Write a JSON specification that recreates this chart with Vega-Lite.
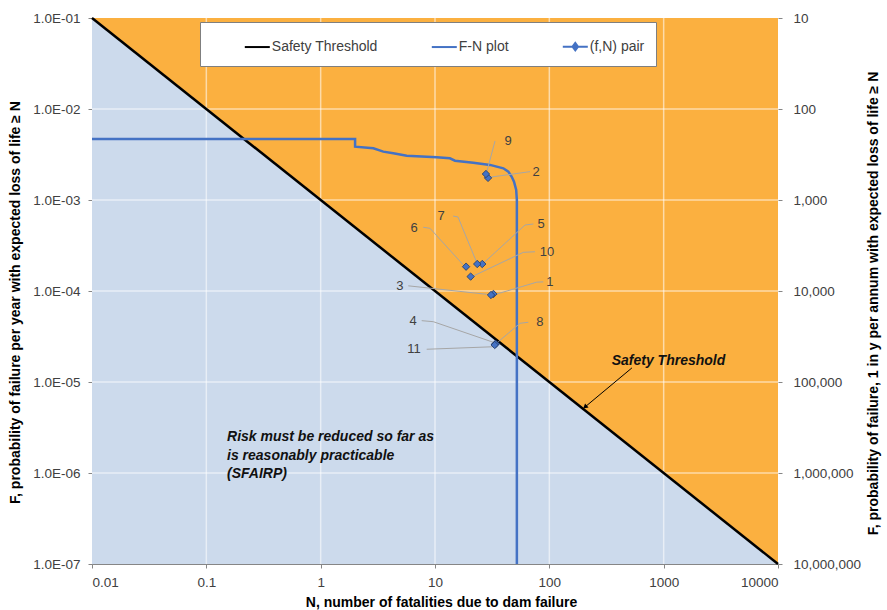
{
  "$schema": "https://vega.github.io/schema/vega-lite/v6.json",
  "width": 686,
  "height": 546,
  "autosize": {"type": "none"},
  "padding": {"left": 92, "top": 18, "right": 109, "bottom": 46},
  "background": "#FFFFFF",
  "config": {
    "font": "Liberation Sans",
    "view": {"stroke": null, "fill": "#FBB040"},
    "axis": {"labelFont": "Liberation Sans", "labelFontSize": 13.5, "labelColor": "#404040", "titleFont": "Liberation Sans", "titleFontSize": 14, "titleFontWeight": "bold", "titleColor": "#000000", "domainColor": "#868686", "tickColor": "#868686", "grid": false},
    "legend": {"labelFont": "Liberation Sans"}
  },
  "layer": [
    {
      "layer": [
        {
          "data": {"values": [{"N": 0.01, "F": 0.1}, {"N": 10000, "F": 1e-7}]},
          "mark": {"type": "area", "color": "#CCDAEC", "opacity": 1},
          "encoding": {
            "x": {"field": "N", "type": "quantitative", "scale": {"type": "log", "domain": [0.01, 10000], "nice": false},
              "axis": {"values": [0.01, 0.1, 1, 10, 100, 1000, 10000], "format": "~g", "title": "N, number of fatalities due to dam failure", "tickSize": 4, "labelPadding": 7, "titleX": 349, "titleY": 38, "titleBaseline": "middle"}},
            "y": {"field": "F", "type": "quantitative", "scale": {"type": "log", "domain": [1e-7, 0.1], "nice": false},
              "axis": {"values": [1e-7, 1e-6, 1e-5, 1e-4, 1e-3, 1e-2, 1e-1], "labelExpr": "'1.0E-0' + round(-log(datum.value)/LN10)", "title": "F, probability of failure per year with expected loss of life ≥ N", "tickSize": 4, "labelPadding": 8, "titleX": -77, "titleY": 284, "titleBaseline": "middle", "titleAngle": 270}},
            "y2": {"datum": 1e-7}
          }
        },
        {
          "data": {"values": [{"N": 0.1}, {"N": 1}, {"N": 10}, {"N": 100}, {"N": 1000}]},
          "mark": {"type": "rule", "color": "#FFFFFF", "opacity": 0.55, "strokeWidth": 1.5},
          "encoding": {"x": {"field": "N", "type": "quantitative", "scale": {"type": "log", "domain": [0.01, 10000], "nice": false}}}
        },
        {
          "data": {"values": [{"F": 1e-6}, {"F": 1e-5}, {"F": 1e-4}, {"F": 1e-3}, {"F": 1e-2}]},
          "mark": {"type": "rule", "color": "#FFFFFF", "opacity": 0.55, "strokeWidth": 1.5},
          "encoding": {"y": {"field": "F", "type": "quantitative", "scale": {"type": "log", "domain": [1e-7, 0.1], "nice": false}}}
        },
        {
          "data": {"values": [{"N": 0.01, "F": 0.1, "series": "Safety Threshold"}, {"N": 10000, "F": 1e-7, "series": "Safety Threshold"}]},
          "mark": {"type": "line", "strokeWidth": 2.5},
          "encoding": {
            "x": {"field": "N", "type": "quantitative", "scale": {"type": "log", "domain": [0.01, 10000], "nice": false}},
            "y": {"field": "F", "type": "quantitative", "scale": {"type": "log", "domain": [1e-7, 0.1], "nice": false}},
            "color": {"field": "series", "type": "nominal",
              "scale": {"domain": ["Safety Threshold", "F-N plot", "(f,N) pair"], "range": ["#000000", "#4472C4", "#4472C4"]},
              "legend": {"orient": "none", "legendX": 108, "legendY": 4, "direction": "horizontal", "title": " ", "titleOrient": "left", "titlePadding": 33, "fillColor": "#FFFFFF", "strokeColor": "#7F7F7F", "padding": 10.8, "columnPadding": 50, "symbolSize": 625, "symbolStrokeWidth": 2, "labelFontSize": 14, "labelColor": "#404040", "labelOffset": 1, "labelLimit": 300,
                "labelExpr": "datum.label == '(f,N) pair' ? datum.label + '\u00a0\u00a0\u00a0\u00a0\u00a0\u00a0\u00a0\u00a0\u00a0' : datum.label",
                "encode": {"symbols": {"update": {
                  "shape": {"signal": "datum.value === '(f,N) pair' ? 'M-1,0L1,0M-0.22,0L0,-0.3L0.22,0L0,0.3Z' : 'M-1,0L1,0'"},
                  "fill": {"signal": "datum.value === '(f,N) pair' ? '#4472C4' : 'transparent'"},
                  "stroke": {"signal": "datum.value === 'Safety Threshold' ? '#000000' : '#4472C4'"},
                  "strokeWidth": {"value": 2},
                  "opacity": {"value": 1}
                }}}}
            }
          }
        },
        {
          "data": {"values": [
            {"i": 0, "N": 0.01, "F": 0.00468, "series": "F-N plot"},
            {"i": 1, "N": 2.0, "F": 0.00468, "series": "F-N plot"},
            {"i": 2, "N": 2.0, "F": 0.00385, "series": "F-N plot"},
            {"i": 3, "N": 2.89, "F": 0.0037, "series": "F-N plot"},
            {"i": 4, "N": 3.53, "F": 0.0034, "series": "F-N plot"},
            {"i": 5, "N": 4.32, "F": 0.00326, "series": "F-N plot"},
            {"i": 6, "N": 5.66, "F": 0.00307, "series": "F-N plot"},
            {"i": 7, "N": 10.35, "F": 0.00295, "series": "F-N plot"},
            {"i": 8, "N": 13.5, "F": 0.00287, "series": "F-N plot"},
            {"i": 9, "N": 14.96, "F": 0.0027, "series": "F-N plot"},
            {"i": 10, "N": 21.6, "F": 0.00257, "series": "F-N plot"},
            {"i": 11, "N": 30.3, "F": 0.00243, "series": "F-N plot"},
            {"i": 12, "N": 39.6, "F": 0.00223, "series": "F-N plot"},
            {"i": 13, "N": 43.8, "F": 0.00205, "series": "F-N plot"},
            {"i": 14, "N": 46.9, "F": 0.0018, "series": "F-N plot"},
            {"i": 15, "N": 49.1, "F": 0.00159, "series": "F-N plot"},
            {"i": 16, "N": 51.3, "F": 0.00129, "series": "F-N plot"},
            {"i": 17, "N": 52, "F": 0.001, "series": "F-N plot"},
            {"i": 18, "N": 52, "F": 1e-7, "series": "F-N plot"}
          ]},
          "mark": {"type": "line", "strokeWidth": 2.5},
          "encoding": {
            "x": {"field": "N", "type": "quantitative", "scale": {"type": "log", "domain": [0.01, 10000], "nice": false}},
            "y": {"field": "F", "type": "quantitative", "scale": {"type": "log", "domain": [1e-7, 0.1], "nice": false}},
            "color": {"field": "series", "type": "nominal"},
            "order": {"field": "i", "type": "quantitative"}
          }
        },
        {
          "data": {"values": [
            {"id": "9", "i": 0, "N": 33.5, "F": 0.00445}, {"id": "9", "i": 1, "N": 28.5, "F": 0.00208},
            {"id": "2", "i": 0, "N": 67.8, "F": 0.00205}, {"id": "2", "i": 1, "N": 30.3, "F": 0.00178},
            {"id": "7", "i": 0, "N": 14.4, "F": 0.000667}, {"id": "7", "i": 1, "N": 15.9, "F": 0.00065}, {"id": "7", "i": 2, "N": 23.2, "F": 0.000205},
            {"id": "6", "i": 0, "N": 7.9, "F": 0.000501}, {"id": "6", "i": 1, "N": 9.04, "F": 0.000489}, {"id": "6", "i": 2, "N": 17.7, "F": 0.000193},
            {"id": "5", "i": 0, "N": 72.4, "F": 0.000545}, {"id": "5", "i": 1, "N": 61.3, "F": 0.000531}, {"id": "5", "i": 2, "N": 26.5, "F": 0.000202},
            {"id": "10", "i": 0, "N": 74.9, "F": 0.00027}, {"id": "10", "i": 1, "N": 59.2, "F": 0.000266}, {"id": "10", "i": 2, "N": 21.6, "F": 0.000146},
            {"id": "1", "i": 0, "N": 88.5, "F": 0.000126}, {"id": "1", "i": 1, "N": 77.5, "F": 0.000125}, {"id": "1", "i": 2, "N": 34.7, "F": 0.0000927},
            {"id": "3", "i": 0, "N": 5.84, "F": 0.000114}, {"id": "3", "i": 1, "N": 28.3, "F": 0.000092},
            {"id": "4", "i": 0, "N": 7.65, "F": 0.0000472}, {"id": "4", "i": 1, "N": 9.66, "F": 0.000046}, {"id": "4", "i": 2, "N": 32.4, "F": 0.0000273},
            {"id": "11", "i": 0, "N": 8.46, "F": 0.0000229}, {"id": "11", "i": 1, "N": 32.4, "F": 0.0000244},
            {"id": "8", "i": 0, "N": 65.5, "F": 0.0000453}, {"id": "8", "i": 1, "N": 55.4, "F": 0.0000442}, {"id": "8", "i": 2, "N": 35.8, "F": 0.0000277}
          ]},
          "mark": {"type": "line", "color": "#A6A6A6", "strokeWidth": 1},
          "encoding": {
            "x": {"field": "N", "type": "quantitative", "scale": {"type": "log", "domain": [0.01, 10000], "nice": false}},
            "y": {"field": "F", "type": "quantitative", "scale": {"type": "log", "domain": [1e-7, 0.1], "nice": false}},
            "detail": {"field": "id", "type": "nominal"},
            "order": {"field": "i", "type": "quantitative"}
          }
        },
        {
          "data": {"values": [
            {"id": "1", "N": 32.4, "F": 0.0000927, "series": "(f,N) pair"},
            {"id": "2", "N": 29.1, "F": 0.00175, "series": "(f,N) pair"},
            {"id": "3", "N": 30.9, "F": 0.0000904, "series": "(f,N) pair"},
            {"id": "4", "N": 33.5, "F": 0.000026, "series": "(f,N) pair"},
            {"id": "5", "N": 25.9, "F": 0.000198, "series": "(f,N) pair"},
            {"id": "6", "N": 18.7, "F": 0.000185, "series": "(f,N) pair"},
            {"id": "7", "N": 23.4, "F": 0.000198, "series": "(f,N) pair"},
            {"id": "8", "N": 34.0, "F": 0.0000262, "series": "(f,N) pair"},
            {"id": "9", "N": 27.9, "F": 0.00193, "series": "(f,N) pair"},
            {"id": "10", "N": 20.5, "F": 0.000144, "series": "(f,N) pair"},
            {"id": "11", "N": 33.3, "F": 0.0000255, "series": "(f,N) pair"}
          ]},
          "mark": {"type": "point", "shape": "diamond", "filled": true, "size": 55, "stroke": "#203864", "strokeWidth": 0.8, "opacity": 1},
          "encoding": {
            "x": {"field": "N", "type": "quantitative", "scale": {"type": "log", "domain": [0.01, 10000], "nice": false}},
            "y": {"field": "F", "type": "quantitative", "scale": {"type": "log", "domain": [1e-7, 0.1], "nice": false}},
            "color": {"field": "series", "type": "nominal"}
          }
        },
        {
          "data": {"values": [
            {"id": "9", "N": 43.5, "F": 0.00445},
            {"id": "2", "N": 76.5, "F": 0.00203},
            {"id": "7", "N": 11.3, "F": 0.000667},
            {"id": "6", "N": 6.55, "F": 0.000492},
            {"id": "5", "N": 84.6, "F": 0.000545},
            {"id": "10", "N": 95.4, "F": 0.000265},
            {"id": "1", "N": 101, "F": 0.000126},
            {"id": "3", "N": 4.94, "F": 0.000113},
            {"id": "4", "N": 6.42, "F": 0.0000468},
            {"id": "11", "N": 6.55, "F": 0.0000231},
            {"id": "8", "N": 82.8, "F": 0.0000451}
          ]},
          "mark": {"type": "text", "fontSize": 13, "color": "#404040", "align": "center", "baseline": "middle", "font": "Liberation Sans"},
          "encoding": {
            "x": {"field": "N", "type": "quantitative", "scale": {"type": "log", "domain": [0.01, 10000], "nice": false}},
            "y": {"field": "F", "type": "quantitative", "scale": {"type": "log", "domain": [1e-7, 0.1], "nice": false}},
            "text": {"field": "id", "type": "nominal"}
          }
        },
        {
          "data": {"values": [{"N": 528, "F": 0.0000143, "i": 0}, {"N": 205, "F": 0.00000531, "i": 1}]},
          "mark": {"type": "line", "color": "#000000", "strokeWidth": 1},
          "encoding": {
            "x": {"field": "N", "type": "quantitative", "scale": {"type": "log", "domain": [0.01, 10000], "nice": false}},
            "y": {"field": "F", "type": "quantitative", "scale": {"type": "log", "domain": [1e-7, 0.1], "nice": false}},
            "order": {"field": "i", "type": "quantitative"}
          }
        },
        {
          "data": {"values": [{"N": 205, "F": 0.00000531}]},
          "mark": {"type": "point", "shape": "triangle-up", "filled": true, "color": "#000000", "size": 30, "angle": 230, "opacity": 1},
          "encoding": {
            "x": {"field": "N", "type": "quantitative", "scale": {"type": "log", "domain": [0.01, 10000], "nice": false}},
            "y": {"field": "F", "type": "quantitative", "scale": {"type": "log", "domain": [1e-7, 0.1], "nice": false}}
          }
        },
        {
          "data": {"values": [
            {"N": 351, "F": 0.0000154, "label": "Safety Threshold"},
            {"N": 0.1517, "F": 0.00000222, "label": "Risk must be reduced so far as\nis reasonably practicable\n(SFAIRP)"}
          ]},
          "mark": {"type": "text", "fontSize": 14, "fontWeight": "bold", "fontStyle": "italic", "color": "#111111", "align": "left", "baseline": "alphabetic", "lineBreak": "\n", "lineHeight": 18.5, "font": "Liberation Sans"},
          "encoding": {
            "x": {"field": "N", "type": "quantitative", "scale": {"type": "log", "domain": [0.01, 10000], "nice": false}},
            "y": {"field": "F", "type": "quantitative", "scale": {"type": "log", "domain": [1e-7, 0.1], "nice": false}},
            "text": {"field": "label", "type": "nominal"}
          }
        }
      ]
    },
    {
      "data": {"values": [{"N": 1, "F": 0.001}]},
      "mark": {"type": "point", "opacity": 0},
      "encoding": {
        "x": {"field": "N", "type": "quantitative", "scale": {"type": "log", "domain": [0.01, 10000], "nice": false}, "axis": null},
        "y": {"field": "F", "type": "quantitative", "scale": {"type": "log", "domain": [1e-7, 0.1], "nice": false},
          "axis": {"orient": "right", "values": [1e-7, 1e-6, 1e-5, 1e-4, 1e-3, 1e-2, 1e-1], "labelExpr": "format(1/datum.value, ',.0f')", "title": "F, probability of failure, 1 in y per annum with expected loss of life ≥ N", "tickSize": 4, "labelPadding": 11, "domain": false, "titleX": 95, "titleY": 285, "titleAngle": 270, "titleBaseline": "middle"}}
      }
    },
    {
      "data": {"values": [{"N": 1, "F": 0.001}]},
      "mark": {"type": "point", "opacity": 0},
      "encoding": {
        "x": {"field": "N", "type": "quantitative", "scale": {"type": "log", "domain": [0.01, 10000], "nice": false},
          "axis": {"orient": "bottom", "values": [0.02, 0.03, 0.04, 0.05, 0.06, 0.07, 0.08, 0.09, 0.2, 0.3, 0.4, 0.5, 0.6, 0.7, 0.8, 0.9, 2, 3, 4, 5, 6, 7, 8, 9, 20, 30, 40, 50, 60, 70, 80, 90, 200, 300, 400, 500, 600, 700, 800, 900, 2000, 3000, 4000, 5000, 6000, 7000, 8000, 9000], "labels": false, "domain": false, "grid": false, "tickSize": -3, "title": null}},
        "y": {"field": "F", "type": "quantitative", "scale": {"type": "log", "domain": [1e-7, 0.1], "nice": false},
          "axis": {"orient": "left", "values": [2e-7, 3e-7, 4e-7, 5e-7, 6e-7, 7e-7, 8e-7, 9e-7, 2e-6, 3e-6, 4e-6, 5e-6, 6e-6, 7e-6, 8e-6, 9e-6, 2e-5, 3e-5, 4e-5, 5e-5, 6e-5, 7e-5, 8e-5, 9e-5, 2e-4, 3e-4, 4e-4, 5e-4, 6e-4, 7e-4, 8e-4, 9e-4, 2e-3, 3e-3, 4e-3, 5e-3, 6e-3, 7e-3, 8e-3, 9e-3, 2e-2, 3e-2, 4e-2, 5e-2, 6e-2, 7e-2, 8e-2, 9e-2], "labels": false, "domain": false, "grid": false, "tickSize": -3, "title": null}}
      }
    }
  ],
  "resolve": {"scale": {"x": "independent", "y": "independent"}}
}
